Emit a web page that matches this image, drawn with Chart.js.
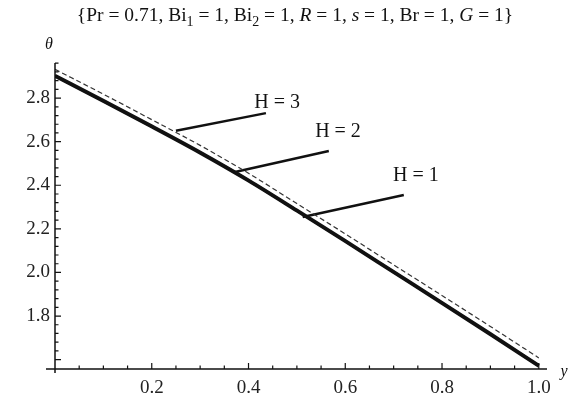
<!DOCTYPE html>
<html>
<head>
<meta charset="utf-8">
<script src="https://cdn.jsdelivr.net/npm/chart.js@4.4.0/dist/chart.umd.min.js"></script>
<style>
    html, body { margin: 0; padding: 0; background: #fff; }
</style>
</head>
<body>
<canvas id="thetaChart" width="573" height="396"></canvas>
<script>
// values
const yValues = [0, 0.1, 0.2, 0.3, 0.4, 0.5, 0.6, 0.7, 0.8, 0.9, 1.0];
const thetaH1 = [2.900, 2.785, 2.668, 2.548, 2.420, 2.282, 2.142, 2.000, 1.858, 1.715, 1.570];
const thetaH2 = [2.904, 2.789, 2.672, 2.552, 2.424, 2.286, 2.146, 2.004, 1.862, 1.719, 1.574];
const thetaH3 = [2.932, 2.818, 2.701, 2.583, 2.455, 2.316, 2.177, 2.035, 1.894, 1.752, 1.608];
const xTicks = [0.2, 0.4, 0.6, 0.8, 1.0];
const yTicks = [1.8, 2.0, 2.2, 2.4, 2.6, 2.8];

// curve labels with their pointer lines (data coordinates)
const curveLabels = ['H = 1', 'H = 2', 'H = 3'];
const pointerFrom = [[0.512, 2.254], [0.372, 2.461], [0.250, 2.650]];
const pointerTo = [[0.721, 2.355], [0.566, 2.557], [0.436, 2.731]];
const labelAt = [[0.746, 2.442], [0.585, 2.644], [0.459, 2.777]];

const serif = '"Liberation Serif", "DejaVu Serif", serif';

function curve(label, values, width, dash, color) {
    return {
        label: label,
        data: yValues.map((x, i) => ({ x: x, y: values[i] })),
        borderColor: color,
        borderWidth: width,
        borderDash: dash,
        pointRadius: 0,
        cubicInterpolationMode: 'monotone',
        fill: false
    };
}

const pointerSets = curveLabels.map((lbl, i) => ({
    label: lbl + ' pointer',
    data: [{ x: pointerFrom[i][0], y: pointerFrom[i][1] }, { x: pointerTo[i][0], y: pointerTo[i][1] }],
    borderColor: '#111',
    borderWidth: 2.5,
    pointRadius: 0,
    fill: false
}));

// axes with inward ticks, title and curve labels
const decorations = {
    id: 'decorations',
    afterDatasetsDraw(chart) {
        const ctx = chart.ctx;
        const xs = chart.scales.x, ys = chart.scales.y;
        const area = chart.chartArea;
        ctx.save();
        ctx.strokeStyle = '#111';
        ctx.lineWidth = 1.5;
        ctx.beginPath();
        ctx.moveTo(area.left - 9, area.bottom);
        ctx.lineTo(area.right, area.bottom);
        ctx.moveTo(area.left, area.bottom + 4);
        ctx.lineTo(area.left, area.top);
        ctx.stroke();

        ctx.lineWidth = 1.2;
        ctx.beginPath();
        for (let k = 1; k <= 20; k++) {
            const px = xs.getPixelForValue(k * 0.05);
            const len = k % 4 === 0 ? 6 : 3.5;
            ctx.moveTo(px, area.bottom);
            ctx.lineTo(px, area.bottom - len);
        }
        for (let k = 39; k <= 74; k++) {
            const py = ys.getPixelForValue(k * 0.04);
            if (py < area.top || py > area.bottom - 1) continue;
            const len = (k - 40) % 5 === 0 ? 6 : 3.5;
            ctx.moveTo(area.left, py);
            ctx.lineTo(area.left + len, py);
        }
        ctx.stroke();

        ctx.fillStyle = '#111';
        ctx.textAlign = 'center';
        ctx.textBaseline = 'middle';
        ctx.font = '20px ' + serif;
        curveLabels.forEach((lbl, i) => {
            ctx.fillText(lbl, xs.getPixelForValue(labelAt[i][0]), ys.getPixelForValue(labelAt[i][1]));
        });

        ctx.font = 'italic 16px ' + serif;
        ctx.fillText('\u03b8', 49, 45);
        ctx.fillText('y', 564, 372);

        // title with subscripts and italic symbols
        const runs = [
            ['{Pr = 0.71, Bi', 'n'], ['1', 's'], [' = 1, Bi', 'n'], ['2', 's'], [' = 1, ', 'n'],
            ['R', 'i'], [' = 1, ', 'n'], ['s', 'i'], [' = 1, Br = 1, ', 'n'], ['G', 'i'], [' = 1}', 'n']
        ];
        const fontFor = t => t === 'i' ? 'italic 19.5px ' + serif : (t === 's' ? '14px ' + serif : '19.5px ' + serif);
        let total = 0;
        runs.forEach(r => { ctx.font = fontFor(r[1]); total += ctx.measureText(r[0]).width; });
        let tx = 295 - total / 2;
        ctx.textAlign = 'left';
        ctx.textBaseline = 'alphabetic';
        runs.forEach(r => {
            ctx.font = fontFor(r[1]);
            ctx.fillText(r[0], tx, r[1] === 's' ? 26 : 21);
            tx += ctx.measureText(r[0]).width;
        });
        ctx.restore();
    }
};

const ctx = document.getElementById('thetaChart').getContext('2d');
new Chart(ctx, {
    type: 'line',
    data: {
        datasets: [
            curve('H = 3', thetaH3, 1.2, [5, 3], '#333'),
            curve('H = 2', thetaH2, 3.2, [], '#111'),
            curve('H = 1', thetaH1, 3.2, [], '#111')
        ].concat(pointerSets)
    },
    options: {
        responsive: false,
        animation: false,
        devicePixelRatio: 1,
        layout: { padding: { top: 63, right: 26, bottom: 0, left: 0 } },
        plugins: {
            legend: { display: false },
            tooltip: { enabled: false },
            title: { display: false }
        },
        scales: {
            x: {
                type: 'linear',
                min: 0,
                max: 1.017,
                afterBuildTicks: s => { s.ticks = xTicks.map(v => ({ value: v })); },
                afterFit: s => { s.height = 27; },
                grid: { display: false, drawTicks: false },
                border: { display: false },
                ticks: {
                    color: '#222',
                    font: { family: serif, size: 19 },
                    padding: 8,
                    maxRotation: 0,
                    autoSkip: false,
                    callback: v => v.toFixed(1)
                }
            },
            y: {
                type: 'linear',
                min: 1.557,
                max: 2.961,
                afterBuildTicks: s => { s.ticks = yTicks.map(v => ({ value: v })); },
                afterFit: s => { s.width = 55; },
                grid: { display: false, drawTicks: false },
                border: { display: false },
                ticks: {
                    color: '#222',
                    font: { family: serif, size: 19 },
                    padding: 5,
                    autoSkip: false,
                    callback: v => v.toFixed(1)
                }
            }
        }
    },
    plugins: [decorations]
});
</script>
</body>
</html>
